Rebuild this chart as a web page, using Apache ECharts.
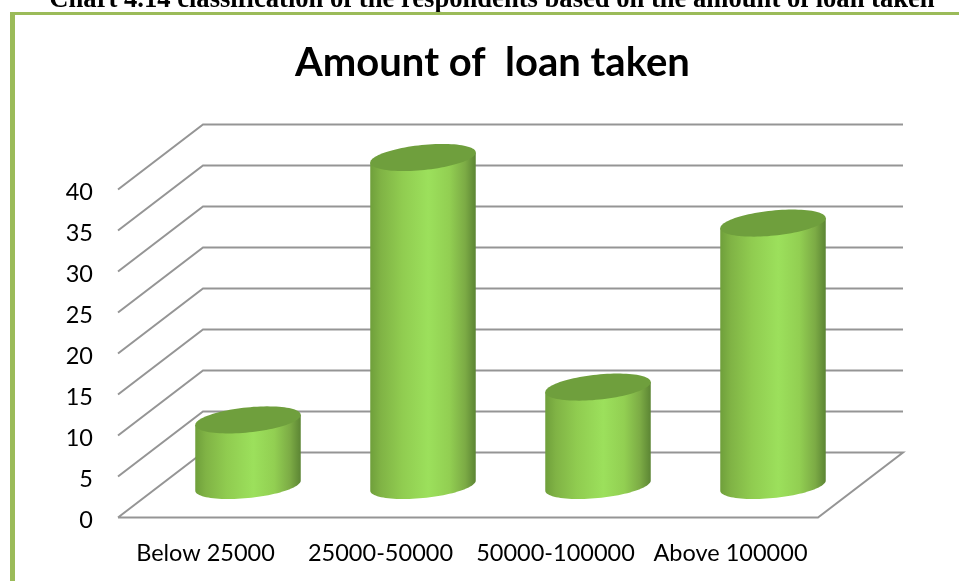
<!DOCTYPE html>
<html><head><meta charset="utf-8">
<style>html,body{margin:0;padding:0;background:#fff}#c{width:959px;height:581px}</style>
<script src="https://cdn.jsdelivr.net/npm/echarts@6/dist/echarts.min.js"></script>
</head><body><div id="c"></div>
<script>
const categories = ['Below 25000','25000-50000','50000-100000','Above 100000'];
const loanCounts = [8, 40, 12, 32];
const tickValues = [0,5,10,15,20,25,30,35,40];
const chartTitle = 'Amount of  loan taken';
const heading = 'Chart 4.14 classification of the respondents based on the amount of loan taken';

const DX = 85, DY = -65, RX = 53, RY = 12.5, TILT = -5.8 * Math.PI / 180;
const chart = echarts.init(document.getElementById('c'), null, {renderer:'canvas'});

function ePoint(cx, cy, t){
  return [cx + RX*Math.cos(t)*Math.cos(TILT) - RY*Math.sin(t)*Math.sin(TILT),
          cy + RX*Math.cos(t)*Math.sin(TILT) + RY*Math.sin(t)*Math.cos(TILT)];
}
const T0 = Math.atan(-(RY/RX)*Math.tan(TILT));

function renderGrid(params, api){
  const v = api.value(0), cs = params.coordSys;
  const y = api.coord([0, v])[1], l = cs.x, r = cs.x + cs.width;
  const pts = v === 0
    ? [[l,y],[r,y],[r+DX,y+DY],[l+DX,y+DY],[l,y]]
    : [[l,y],[l+DX,y+DY],[r+DX,y+DY]];
  return {type:'polyline', shape:{points:pts},
    style:{fill:null, stroke:'#959595', lineWidth:2}};
}
function renderCyl(params, api){
  const base = api.coord([api.value(0), 0]);
  const top = api.coord([api.value(0), api.value(1)]);
  const cx = base[0] + DX/2, by = base[1] + DY/2 + 0.5, ty = top[1] + DY/2 + 0.5;
  const pts = [];
  for(let i=0;i<=48;i++) pts.push(ePoint(cx, by, T0 + Math.PI*i/48));
  pts.push(ePoint(cx, ty, T0 + Math.PI));
  pts.push(ePoint(cx, ty, T0));
  const capPts = [];
  for(let i=0;i<96;i++) capPts.push(ePoint(cx, ty, 2*Math.PI*i/96));
  return {type:'group', children:[
    {type:'polygon', shape:{points:pts}, style:{
      fill:new echarts.graphic.LinearGradient(0,0,1,0,[
        {offset:0,color:'#6f9f3b'},{offset:.1,color:'#80b345'},{offset:.3,color:'#90cc50'},
        {offset:.55,color:'#9ce05c'},{offset:.75,color:'#92cf52'},{offset:.9,color:'#7cab45'},{offset:1,color:'#5c8534'}])}},
    {type:'polygon', shape:{points:capPts}, style:{fill:'#6f9f3d'}}
  ]};
}

chart.setOption({
  animation:false,
  backgroundColor:'#fff',
  title:[
    {text:chartTitle, left:487.5, top:38, textAlign:'center',
     textStyle:{fontFamily:'Lato', fontWeight:'bold', fontSize:40, color:'#000'}},
    {text:heading, left:487, top:-18, textAlign:'center',
     textStyle:{fontFamily:'Liberation Serif', fontWeight:'bold', fontSize:26.6, color:'#000'}}
  ],
  grid:{left:118, right:141, top:189.5, bottom:63.5},
  xAxis:{type:'category', data:categories, axisLine:{show:false}, axisTick:{show:false},
    axisLabel:{fontFamily:'Lato', fontSize:23.5, color:'#000', margin:24, interval:0}},
  yAxis:{type:'value', min:0, max:40, interval:5, splitLine:{show:false},
    axisLine:{show:false}, axisTick:{show:false},
    axisLabel:{fontFamily:'Lato', fontSize:23.5, color:'#000', margin:25, verticalAlign:'top', lineHeight:6}},
  series:[
    {type:'custom', z:1, coordinateSystem:'cartesian2d', renderItem:renderGrid,
     encode:{y:0}, data:tickValues.map(v=>[v]), silent:true},
    {type:'custom', z:2, coordinateSystem:'cartesian2d', renderItem:renderCyl,
     encode:{x:0,y:1}, data:loanCounts.map((v,i)=>[i,v]), silent:true}
  ],
  graphic:[
    {type:'rect', silent:true, z:10, shape:{x:10,y:12,width:949,height:3}, style:{fill:'#9BBB59'}},
    {type:'rect', silent:true, z:10, shape:{x:10,y:12,width:5,height:569}, style:{fill:'#9BBB59'}}
  ]
});
</script></body></html>
